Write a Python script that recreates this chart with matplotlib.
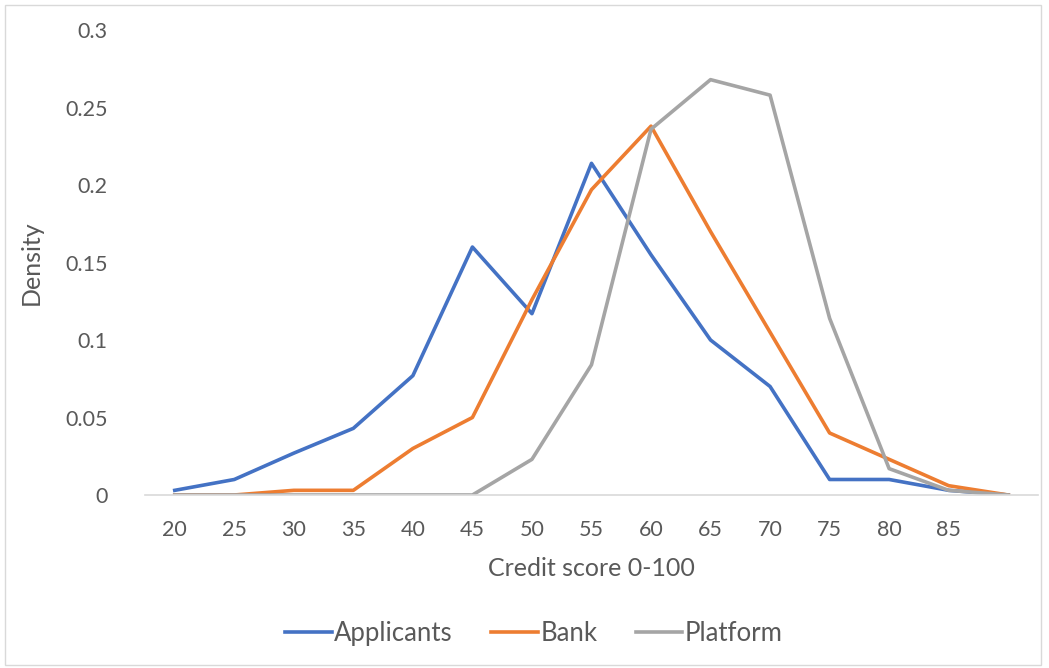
import numpy as np
import matplotlib.pyplot as plt
from matplotlib.patches import Rectangle

plt.rcParams['font.family'] = ['Lato', 'DejaVu Sans']

# категории (последняя без подписи)
scores = ['20', '25', '30', '35', '40', '45', '50', '55', '60', '65', '70', '75', '80', '85', '']

applicants = [0.003, 0.010, 0.027, 0.043, 0.077, 0.160, 0.117, 0.214, 0.155, 0.100, 0.070, 0.010, 0.010, 0.003, 0.0]
bank = [0.0, 0.0, 0.003, 0.003, 0.030, 0.050, 0.126, 0.197, 0.238, 0.170, 0.105, 0.040, 0.023, 0.006, 0.0]
platform = [0.0, 0.0, 0.0, 0.0, 0.0, 0.0, 0.023, 0.084, 0.236, 0.268, 0.258, 0.114, 0.017, 0.003, 0.0]

txt = '#595959'
fig = plt.figure(figsize=(10.49, 6.68), dpi=100)
ax = fig.add_axes([0.1382, 0.259, 0.8513, 0.696])

x = np.arange(len(scores))
ax.plot(x, applicants, color='#4472C4', lw=2.6, label='Applicants', solid_joinstyle='round')
ax.plot(x, bank, color='#ED7D31', lw=2.6, label='Bank', solid_joinstyle='round')
ax.plot(x, platform, color='#A5A5A5', lw=2.6, label='Platform', solid_joinstyle='round')

ax.set_xlim(-0.5, len(scores) - 0.5)
ax.set_ylim(0, 0.3)
ax.set_xticks(x)
ax.set_xticklabels(scores)
ax.set_yticks([0, 0.05, 0.1, 0.15, 0.2, 0.25, 0.3])
ax.set_yticklabels(['0', '0.05', '0.1', '0.15', '0.2', '0.25', '0.3'])
ax.tick_params(length=0, labelsize=15.5, colors=txt)
ax.tick_params(axis='x', pad=18)
ax.tick_params(axis='y', pad=27)
for s in ['top', 'right', 'left']:
    ax.spines[s].set_visible(False)
ax.spines['bottom'].set_color('#D9D9D9')
ax.spines['bottom'].set_linewidth(1.2)

ax.set_xlabel('Credit score 0-100', fontsize=18, color=txt, labelpad=12)
ax.set_ylabel('Density', fontsize=18, color=txt)
ax.yaxis.set_label_coords(-0.115, 0.5)

leg = fig.legend(loc='center', bbox_to_anchor=(0.509, 0.052), ncol=3, frameon=False,
                 fontsize=18.5, handlelength=1.8, handletextpad=0.1, columnspacing=1.5)
for t in leg.get_texts():
    t.set_color(txt)

fig.patches.append(Rectangle((0.005, 0.005), 0.987, 0.988, transform=fig.transFigure,
                             fill=False, edgecolor='#D9D9D9', lw=1))

fig.savefig('out.png', dpi=100, facecolor='white')
